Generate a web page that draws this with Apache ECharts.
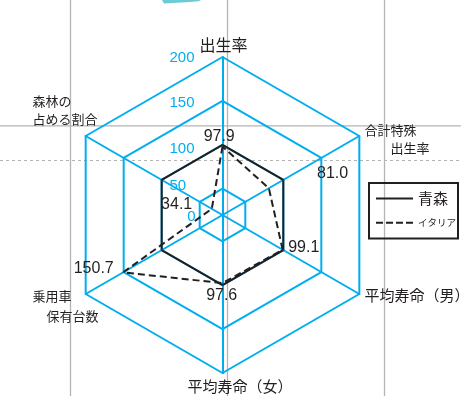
<!DOCTYPE html>
<html>
<head>
<meta charset="utf-8">
<script src="https://cdn.jsdelivr.net/npm/echarts@6/dist/echarts.min.js"></script>
<style>
html, body { margin: 0; padding: 0; background: #fff; }
#main { width: 461px; height: 396px; }
</style>
</head>
<body>
<div id="main"></div>
<script>
// 指標（ECharts のレーダーは上から反時計回りに並ぶ）
var indicators = ['出生率', '森林の\n占める割合', '乗用車\n保有台数', '平均寿命（女）', '平均寿命（男）', '合計特殊\n出生率'];
var aomori = [100, 100, 100, 100, 100, 100];
var italy = [97.9, 34.1, 150.7, 97.6, 99.1, 81.0];

// 目盛り（中心が「0」と書かれている）
var axisMin = 20, axisMax = 200;
var ringValues = [20, 50, 100, 150, 200];
var ringLabels = ['0', '50', '100', '150', '200'];

var CYAN = '#00aeef';
var INK = '#231f20';
var GRAY = '#b4b4b4';
var JP = '"Noto Sans CJK JP", sans-serif';
var NUM = '"Liberation Sans", Arial, sans-serif';

// ラベルの置き場所（見た目の調整用）
var ringLabelPos = [
    { align: 'right', offset: [-27, 2] },
    { align: 'left', offset: [-53, -3] },
    { align: 'left', offset: [-53, 3.7] },
    { align: 'left', offset: [-53, 1.9] },
    { align: 'left', offset: [-53, 0.5] }
];
// イタリアの数値ラベル：点からのずれ [dx, dy]
var italyLabelShift = [[-3.3, -9.9], [-35.1, -4.6], [-29.4, -3.4], [-0.8, 12.4], [21.1, -2], [63.7, -14.7]];
// 指標名：頂点から見た左端 lx、1行目の中心 cy、字の大きさ、行間、行ごとの字下げ
var nameLayout = [
    { lx: -23, cy: -12, size: 16, lh: 18, indent: [0] },
    { lx: -53.2, cy: -35, size: 13, lh: 18, indent: [0, 0] },
    { lx: -53.2, cy: 2.5, size: 13, lh: 19.5, indent: [0, 14] },
    { lx: -35, cy: 13.5, size: 15, lh: 18, indent: [0] },
    { lx: 5.2, cy: 1.5, size: 15, lh: 18, indent: [0] },
    { lx: 5.2, cy: -6, size: 13, lh: 18.5, indent: [0, 26] }
];

var OX = 120, OY = 120;
var nameRich = {};
nameLayout.forEach(function (o, k) {
    o.indent.forEach(function (ind, j) {
        nameRich['n' + k + '_' + j] = {
            fontSize: o.size, fontFamily: JP, color: INK, align: 'left',
            padding: [j === 0 ? OY + o.cy - o.size / 2 : o.lh - o.size, 0, 0, OX + o.lx + ind]
        };
    });
});

var italyRich = {};
italyLabelShift.forEach(function (s, k) {
    var dx = s[0], dy = s[1];
    italyRich['d' + k] = {
        fontSize: 16, fontFamily: NUM, color: INK,
        padding: [dy > 0 ? 2 * dy : 0, dx < 0 ? -2 * dx : 0, dy < 0 ? -2 * dy : 0, dx > 0 ? 2 * dx : 0]
    };
});

var chart = echarts.init(document.getElementById('main'), null, { renderer: 'canvas' });

var option = {
    animation: false,
    backgroundColor: '#fff',
    graphic: [
        { type: 'line', z: -10, shape: { x1: 70.5, y1: 0, x2: 70.5, y2: 396 }, style: { stroke: GRAY, lineWidth: 1.3 } },
        { type: 'line', z: -10, shape: { x1: 227.5, y1: 0, x2: 227.5, y2: 396 }, style: { stroke: GRAY, lineWidth: 1.3 } },
        { type: 'line', z: -10, shape: { x1: 384.5, y1: 0, x2: 384.5, y2: 396 }, style: { stroke: GRAY, lineWidth: 1.3 } },
        { type: 'line', z: -10, shape: { x1: 0, y1: 125.8, x2: 461, y2: 125.8 }, style: { stroke: GRAY, lineWidth: 1.3 } },
        { type: 'line', z: -10, shape: { x1: 0, y1: 160.5, x2: 461, y2: 160.5 }, style: { stroke: GRAY, lineWidth: 1, lineDash: [3, 3] } },
        { type: 'polygon', z: -10, shape: { points: [[162, 0], [201, 0], [199, 1.2], [186, 2.2], [164, 3.4]] }, style: { fill: '#6ccbd4' } }
    ],
    legend: {
        orient: 'vertical',
        left: 369,
        top: 183,
        padding: [8, 2, 11, 7],
        borderColor: INK,
        borderWidth: 2,
        itemWidth: 37,
        itemHeight: 2,
        itemGap: 12,
        textStyle: { color: INK, fontFamily: JP },
        data: [
            { name: '青森', icon: 'rect', textStyle: { fontSize: 15 } },
            { name: 'イタリア', icon: 'path://M0,0h7v2h-7z M10,0h7v2h-7z M20,0h7v2h-7z M30,0h7v2h-7z', textStyle: { fontSize: 9.5 } }
        ]
    },
    radar: {
        center: [222.5, 215],
        radius: 158,
        startAngle: 90,
        shape: 'polygon',
        splitNumber: 4,
        indicator: indicators.map(function (n) { return { name: n, min: axisMin, max: axisMax }; }),
        axisName: { show: false },
        axisLine: { lineStyle: { color: CYAN, width: 2 } },
        axisTick: { show: false },
        axisLabel: { show: false },
        splitLine: { show: false },
        splitArea: { show: false }
    },
    series: [
        {
            name: 'grid',
            type: 'radar',
            silent: true,
            symbol: 'circle',
            symbolSize: 1,
            itemStyle: { color: CYAN },
            data: ringValues.map(function (v, i) {
                return {
                    value: indicators.map(function () { return v; }),
                    lineStyle: { color: CYAN, width: 2, opacity: i === 0 ? 0 : 1 },
                    label: {
                        show: true,
                        position: 'inside',
                        align: ringLabelPos[i].align,
                        verticalAlign: 'middle',
                        offset: ringLabelPos[i].offset,
                        color: CYAN,
                        fontSize: 15,
                        fontFamily: NUM,
                        formatter: function (p) { return p.dimensionIndex === 0 ? ringLabels[i] : ''; }
                    }
                };
            })
        },
        {
            name: '青森',
            type: 'radar',
            symbol: 'circle',
            symbolSize: 1,
            itemStyle: { color: INK },
            lineStyle: { color: INK, width: 2 },
            data: [{ value: aomori }]
        },
        {
            name: 'イタリア',
            type: 'radar',
            symbol: 'circle',
            symbolSize: 1,
            itemStyle: { color: INK },
            lineStyle: { color: INK, width: 2, type: [7, 4] },
            label: {
                show: true,
                position: 'inside',
                formatter: function (p) { return '{d' + p.dimensionIndex + '|' + p.value.toFixed(1) + '}'; },
                rich: italyRich
            },
            data: [{ value: italy }]
        },
        {
            name: 'names',
            type: 'radar',
            silent: true,
            symbol: 'circle',
            symbolSize: 1,
            itemStyle: { color: CYAN },
            lineStyle: { opacity: 0 },
            label: {
                show: true,
                position: 'inside',
                align: 'left',
                verticalAlign: 'top',
                offset: [-OX, -OY],
                formatter: function (p) {
                    var k = p.dimensionIndex;
                    return indicators[k].split('\n').map(function (s, j) {
                        return '{n' + k + '_' + j + '|' + s + '}';
                    }).join('\n');
                },
                rich: nameRich
            },
            data: [{ value: indicators.map(function () { return axisMax; }) }]
        }
    ]
};

chart.setOption(option);
</script>
</body>
</html>
